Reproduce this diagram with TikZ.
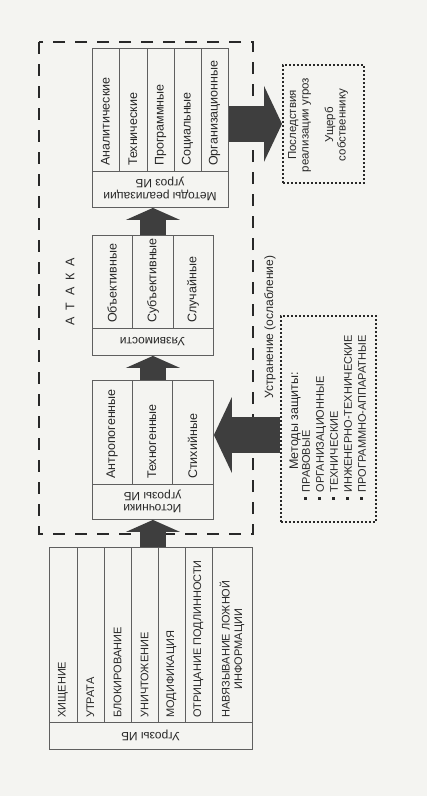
\documentclass[tikz,border=0pt]{standalone}
\usepackage{fontspec}
\setmainfont{Liberation Sans}
\usetikzlibrary{arrows.meta,calc}
\definecolor{paper}{RGB}{244,244,241}
\definecolor{ink}{RGB}{40,40,40}
\definecolor{arrowgray}{RGB}{62,62,62}
\definecolor{rulegray}{RGB}{95,95,95}
\newcommand{\protbullet}{\raisebox{3pt}{\rule{2.4pt}{2.4pt}}\hspace{5pt}}

\begin{document}
\begin{tikzpicture}[
  x=1pt, y=-1pt,
  every node/.style={font=\fontsize{12.5}{13}\selectfont, text=ink},
  capsfont/.style={font=\fontsize{11}{12.5}\selectfont},
  box/.style={draw=rulegray, line width=0.9pt, inner sep=0pt, anchor=north west},
  rowline/.style={draw=rulegray, line width=0.9pt},
  coltext/.style={rotate=90, anchor=west, inner sep=0pt, align=center},
  headtext/.style={rotate=180, align=center, inner sep=0pt,
    font=\fontsize{12}{12.5}\selectfont},
  thinarrow/.style={draw=arrowgray, line width=26pt,
    -{Triangle[length=12pt, width=54pt, line width=0pt]}},
  fatarrow/.style={draw=arrowgray, line width=36pt,
    -{Triangle[length=18pt, width=76pt, line width=0pt]}},
  attackframe/.style={draw=ink, line width=1.8pt, dash pattern=on 12pt off 10pt},
  dotbox/.style={draw=ink, line width=1.8pt, dash pattern=on 1.8pt off 2.2pt,
    inner sep=0pt, anchor=north west}
]
\fill[paper] (0,0) rectangle (427,796);
\useasboundingbox (0,0) rectangle (427,796);

% Атака
\draw[attackframe] (39,42) rectangle (253,534);
\node[rotate=90] (attack) at (70,292)
  {А\hspace{0.55em}Т\hspace{0.55em}А\hspace{0.55em}К\hspace{0.55em}А};

% Угрозы ИБ
\node[box, minimum width=203pt, minimum height=202pt] (threats) at (49,547) {};
\draw[rowline] (49,722) -- (252,722);
\foreach \x in {77,104,131,158,185,212}
  \draw[rowline] (\x,547) -- (\x,722);
\node[headtext] (threatshead) at (150.5,735.5) {Угрозы ИБ};
\foreach \x/\t [count=\i] in {63/ХИЩЕНИЕ, 90.5/УТРАТА, 117.5/БЛОКИРОВАНИЕ,
    144.5/УНИЧТОЖЕНИЕ, 171.5/МОДИФИКАЦИЯ, 198.5/ОТРИЦАНИЕ ПОДЛИННОСТИ,
    232/{НАВЯЗЫВАНИЕ ЛОЖНОЙ\\ИНФОРМАЦИИ}}
  \node[coltext, capsfont] (thr\i) at (\x,718) {\t};

% Источники угроз ИБ
\node[box, minimum width=121pt, minimum height=139pt] (sources) at (92,380) {};
\draw[rowline] (92,484) -- (213,484);
\foreach \x in {132,172}
  \draw[rowline] (\x,380) -- (\x,484);
\node[headtext] (sourceshead) at (152.5,501.5) {Источники\\угрозы ИБ};
\foreach \x/\t [count=\i] in {112/Антропогенные, 152/Техногенные, 192.5/Стихийные}
  \node[coltext] (src\i) at (\x,479) {\t};

% Уязвимости
\node[box, minimum width=121pt, minimum height=120pt] (vuln) at (92,235) {};
\draw[rowline] (92,328) -- (213,328);
\foreach \x in {132.5,173}
  \draw[rowline] (\x,235) -- (\x,328);
\node[headtext] (vulnhead) at (152.5,341.5) {Уязвимости};
\foreach \x/\t [count=\i] in {112/Объективные, 153/Субъективные, 193/Случайные}
  \node[coltext] (vul\i) at (\x,323) {\t};

% Методы реализации угроз ИБ
\node[box, minimum width=136pt, minimum height=159pt] (methods) at (92,48) {};
\draw[rowline] (92,171) -- (228,171);
\foreach \x in {119,147,174,201}
  \draw[rowline] (\x,48) -- (\x,171);
\node[headtext] (methodshead) at (160,189) {Методы реализации\\угроз ИБ};
\foreach \x/\t [count=\i] in {105.5/Аналитические, 133/Технические,
    160.5/Программные, 187.5/Социальные, 214.5/Организационные}
  \node[coltext] (met\i) at (\x,166) {\t};

% Последствия
\node[dotbox, minimum width=81pt, minimum height=118pt] (conseq) at (282,64) {};
\node[rotate=90, align=center, font=\fontsize{11.5}{12.5}\selectfont]
  (conseqtext) at (318,125)
  {Последствия\\реализации угроз\\[12pt]Ущерб\\собственнику};

% Методы защиты
\node[dotbox, minimum width=95pt, minimum height=206pt] (protect) at (280,315) {};
\node[rotate=90] (protecttitle) at (295,421) {Методы защиты:};
\node[rotate=90, anchor=north west, inner sep=0pt, align=left,
  font=\fontsize{11}{14}\selectfont] (protectlist) at (302,500)
  {\protbullet ПРАВОВЫЕ\\ \protbullet ОРГАНИЗАЦИОННЫЕ\\ \protbullet ТЕХНИЧЕСКИЕ\\
   \protbullet ИНЖЕНЕРНО-ТЕХНИЧЕСКИЕ\\ \protbullet ПРОГРАММНО-АППАРАТНЫЕ};
\node[rotate=90, font=\fontsize{12}{13}\selectfont] (remedy) at (270,327)
  {Устранение (ослабление)};

% стрелки
\coordinate (defy) at (0,435);
\draw[thinarrow] (sources.south |- threats.north) -- (sources.south);
\draw[thinarrow] (sources.north) -- (vuln.south);
\draw[thinarrow] (vuln.north) -- (vuln.north |- methods.south);
\draw[fatarrow] (methods.east |- conseq.west) -- (conseq.west);
\draw[fatarrow] (protect.west |- defy) -- (sources.east |- defy);
\end{tikzpicture}
\end{document}
